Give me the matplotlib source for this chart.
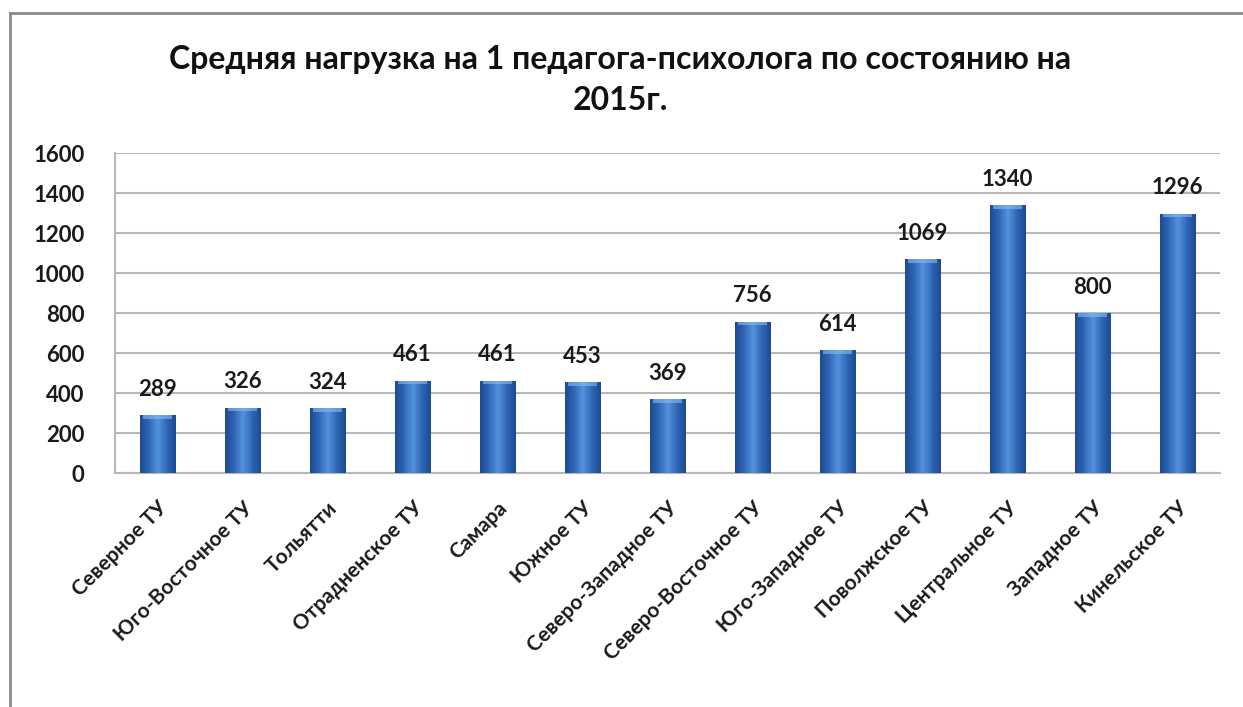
import numpy as np
import matplotlib.pyplot as plt
from matplotlib.lines import Line2D
from matplotlib.colors import LinearSegmentedColormap

plt.rcParams['font.family'] = ['Lato', 'DejaVu Sans']

regions = ['Северное ТУ', 'Юго-Восточное ТУ', 'Тольятти', 'Отрадненское ТУ',
           'Самара', 'Южное ТУ', 'Северо-Западное ТУ', 'Северо-Восточное ТУ',
           'Юго-Западное ТУ', 'Поволжское ТУ', 'Центральное ТУ', 'Западное ТУ',
           'Кинельское ТУ']
load = [289, 326, 324, 461, 461, 453, 369, 756, 614, 1069, 1340, 800, 1296]
yticks = [0, 200, 400, 600, 800, 1000, 1200, 1400, 1600]

fig = plt.figure(figsize=(12.43, 7.07), dpi=100)
ax = fig.add_axes([115 / 1243, 1 - 473 / 707, 1105 / 1243, 320 / 707])

x = np.arange(len(regions))
bars = ax.bar(x, load, width=0.42, color='#2f66b3', zorder=2)

# горизонтальный градиент "цилиндра" на каждом столбце
blue = LinearSegmentedColormap.from_list(
    'cyl', ['#1d4a90', '#2f68b8', '#5592dc', '#2f68b8', '#1d4a90'])
grad = np.linspace(0, 1, 64).reshape(1, -1)
for b in bars:
    x0, y0 = b.get_x(), b.get_y()
    w, h = b.get_width(), b.get_height()
    im = ax.imshow(grad, cmap=blue, aspect='auto', zorder=3,
                   extent=(x0, x0 + w, y0, y0 + h))
    im.set_clip_path(b)
    # светлая кромка сверху
    ax.fill_between([x0 + w * 0.08, x0 + w * 0.92], y0 + h - 18, y0 + h,
                    color='#8dbdf0', alpha=0.6, zorder=4, linewidth=0)
    ax.text(x0 + w / 2, h + 130, str(int(h)), ha='center', va='center',
            fontsize=16, fontweight='bold', color='#1a1a1a', zorder=5)

ax.set_xlim(-0.5, len(regions) - 0.5)
ax.set_ylim(0, 1600)
ax.set_yticks(yticks)
ax.set_yticklabels([str(v) for v in yticks], fontsize=16, fontweight='bold',
                   color='#1a1a1a')
ax.set_xticks(x)
ax.set_xticklabels(regions, rotation=45, ha='right', rotation_mode='anchor',
                   fontsize=15, fontweight='bold', color='#1a1a1a')
ax.tick_params(axis='x', length=0, pad=18)
ax.tick_params(axis='y', length=0, pad=22)
ax.grid(axis='y', color='#b8b8b8', linewidth=1.5, zorder=0)
for s in ['top', 'right']:
    ax.spines[s].set_visible(False)
ax.spines['left'].set_color('#b8b8b8')
ax.spines['bottom'].set_color('#b8b8b8')
ax.spines['left'].set_linewidth(1.5)
ax.spines['bottom'].set_linewidth(1.5)

fig.text(620 / 1243, 1 - 60 / 707, 'Средняя нагрузка на 1 педагога-психолога по состоянию на',
         ha='center', va='center', fontsize=23, fontweight='bold', color='#111111')
fig.text(620 / 1243, 1 - 101 / 707, '2015г.', ha='center', va='center',
         fontsize=23, fontweight='bold', color='#111111')

# рамка области диаграммы
fig.add_artist(Line2D([10 / 1243, 1], [1 - 13 / 707, 1 - 13 / 707],
                      color='#8a8a8a', linewidth=2))
fig.add_artist(Line2D([10 / 1243, 10 / 1243], [0, 1 - 13 / 707],
                      color='#8a8a8a', linewidth=2))

fig.savefig('out.png', dpi=100)
